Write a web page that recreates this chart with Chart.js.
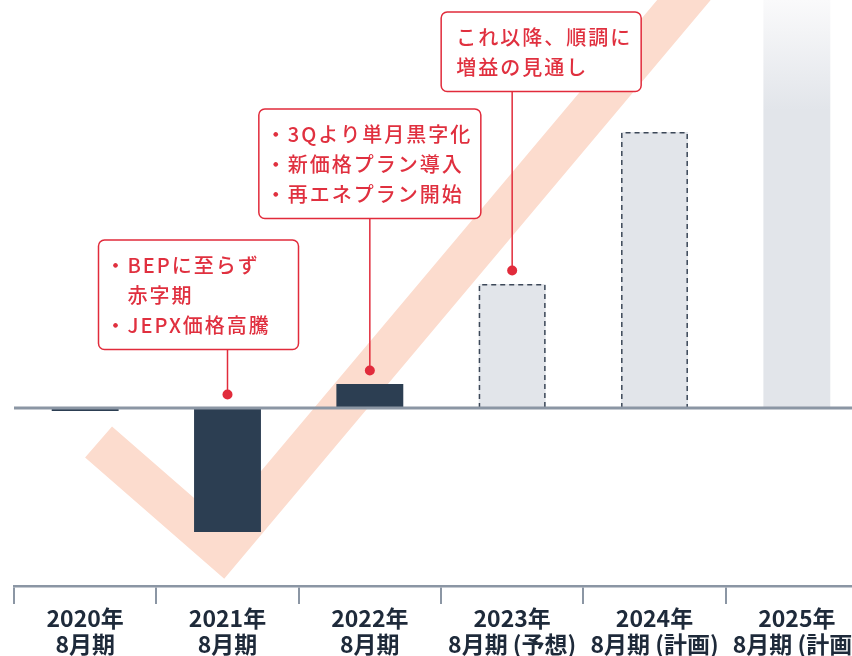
<!DOCTYPE html>
<html lang="ja">
<head>
<meta charset="utf-8">
<title>業績推移</title>
<script src="https://cdn.jsdelivr.net/npm/chart.js@4.4.1/dist/chart.umd.min.js"></script>
<style>
  html, body { margin: 0; padding: 0; background: #fff; overflow: hidden; }
  #wrap { width: 868px; height: 656px; }
</style>
</head>
<body>
<div id="wrap"><canvas id="chart"></canvas></div>
<script>
// Data
const years = ["2020年", "2021年", "2022年", "2023年", "2024年", "2025年"];
const periods = ["8月期", "8月期", "8月期", "8月期 (予想)", "8月期 (計画)", "8月期 (計画)"];
const profit = [-3, -124, 24, 124, 276, 430];
const barKind = ["actual", "actual", "actual", "forecast", "forecast", "plan"];
const yMin = -178;
const yMax = 408;

const notes2021 = ["・BEPに至らず", "　赤字期", "・JEPX価格高騰"];
const notes2022 = ["・3Qより単月黒字化", "・新価格プラン導入", "・再エネプラン開始"];
const notes2023 = ["これ以降、順調に", "増益の見通し"];

// Colours
const NAVY = "#2c3e52";
const LIGHT = "#e2e5ea";
const RED = "#e12b3b";
const AXIS = "#8b96a4";
const CHECK = "#fcdcce";

// Callout layout (box placement relative to its bar)
const callouts = [
    { index: 1, lines: notes2021, dx: -129, width: 200, top: 240, pad: 7 },
    { index: 2, lines: notes2022, dx: -111, width: 222, top: 109, pad: 7 },
    { index: 3, lines: notes2023, dx: -71, width: 200, top: 12, pad: 15 }
];

const decor = {
    id: "decor",
    beforeDatasetsDraw(chart) {
        // big check mark in the background
        const { ctx } = chart;
        const x = chart.scales.x, y = chart.scales.y;
        const step = x.getPixelForValue(1) - x.getPixelForValue(0);
        const px = c => x.getPixelForValue(0) + c * step;
        ctx.save();
        ctx.strokeStyle = CHECK;
        ctx.lineWidth = 41;
        ctx.lineJoin = "miter";
        ctx.lineCap = "butt";
        ctx.beginPath();
        ctx.moveTo(px(0.094), y.getPixelForValue(-34));
        ctx.lineTo(px(0.961), y.getPixelForValue(-141.5));
        ctx.lineTo(px(4.381), y.getPixelForValue(437.5));
        ctx.stroke();
        ctx.restore();
    },
    afterDatasetsDraw(chart) {
        const { ctx, chartArea } = chart;
        const y = chart.scales.y;
        const meta = chart.getDatasetMeta(0);

        // dashed outline on forecast bars
        ctx.save();
        ctx.strokeStyle = "#3c4858";
        ctx.lineWidth = 1.5;
        ctx.setLineDash([5, 4]);
        meta.data.forEach((bar, i) => {
            if (barKind[i] !== "forecast") return;
            const l = bar.x - bar.width / 2 + 0.75, r = bar.x + bar.width / 2 - 0.75;
            ctx.beginPath();
            ctx.moveTo(l, bar.base);
            ctx.lineTo(l, bar.y + 0.75);
            ctx.lineTo(r, bar.y + 0.75);
            ctx.lineTo(r, bar.base);
            ctx.stroke();
        });
        ctx.restore();

        // zero line
        const y0 = y.getPixelForValue(0);
        ctx.save();
        ctx.strokeStyle = AXIS;
        ctx.lineWidth = 3;
        ctx.beginPath();
        ctx.moveTo(chartArea.left, y0);
        ctx.lineTo(chartArea.right, y0);
        ctx.stroke();
        ctx.restore();

        // callouts
        const lineH = 30, padTop = 25, padBottom = 24.5;
        callouts.forEach(c => {
            const bar = meta.data[c.index];
            const cx = bar.x;
            const dotY = y.getPixelForValue(Math.max(profit[c.index], 0)) - 13.5;
            const h = padTop + padBottom + (c.lines.length - 1) * lineH;
            const left = cx + c.dx;

            ctx.save();
            ctx.strokeStyle = RED;
            ctx.lineWidth = 1.5;
            ctx.beginPath();
            ctx.moveTo(cx, c.top + h);
            ctx.lineTo(cx, dotY);
            ctx.stroke();

            ctx.fillStyle = RED;
            ctx.beginPath();
            ctx.arc(cx, dotY, 5, 0, Math.PI * 2);
            ctx.fill();

            ctx.fillStyle = "#fff";
            ctx.beginPath();
            if (ctx.roundRect) ctx.roundRect(left, c.top, c.width, h, 6);
            else ctx.rect(left, c.top, c.width, h);
            ctx.fill();
            ctx.stroke();

            ctx.fillStyle = "#e0303f";
            ctx.font = '500 20px "Noto Sans CJK JP", "Noto Sans", sans-serif';
            ctx.letterSpacing = "2px";
            ctx.textBaseline = "middle";
            ctx.textAlign = "left";
            c.lines.forEach((t, k) => {
                ctx.fillText(t, left + c.pad, c.top + padTop + k * lineH);
            });
            ctx.restore();
        });
    }
};

new Chart(document.getElementById("chart").getContext("2d"), {
    type: "bar",
    data: {
        labels: years.map((yr, i) => [yr, periods[i]]),
        datasets: [{
            data: profit,
            backgroundColor: (c) => {
                const kind = barKind[c.dataIndex];
                if (kind === "actual") return NAVY;
                if (kind === "forecast") return LIGHT;
                const area = c.chart.chartArea;
                if (!area) return LIGHT;
                const g = c.chart.ctx.createLinearGradient(0, area.top, 0, area.top + 110);
                g.addColorStop(0, "#fafafb");
                g.addColorStop(1, LIGHT);
                return g;
            },
            borderWidth: 0,
            categoryPercentage: 1,
            barPercentage: 0.47
        }]
    },
    options: {
        responsive: true,
        maintainAspectRatio: false,
        animation: false,
        devicePixelRatio: 1,
        layout: { padding: { left: 14, right: 0, top: 0, bottom: 0 } },
        plugins: { legend: { display: false }, tooltip: { enabled: false } },
        scales: {
            y: { display: false, min: yMin, max: yMax },
            x: {
                afterFit: (scale) => { scale.height = 70; },
                border: { display: true, color: AXIS, width: 2.5 },
                grid: { display: true, drawOnChartArea: false, drawTicks: true, tickLength: 18, color: AXIS, lineWidth: 2, offset: true },
                ticks: {
                    autoSkip: false,
                    maxRotation: 0,
                    padding: 2,
                    color: "#1e2a3a",
                    font: { family: '"Noto Sans CJK JP", "Noto Sans", sans-serif', size: 23, weight: "700", lineHeight: "25.5px" }
                }
            }
        }
    },
    plugins: [decor]
});
</script>
</body>
</html>
